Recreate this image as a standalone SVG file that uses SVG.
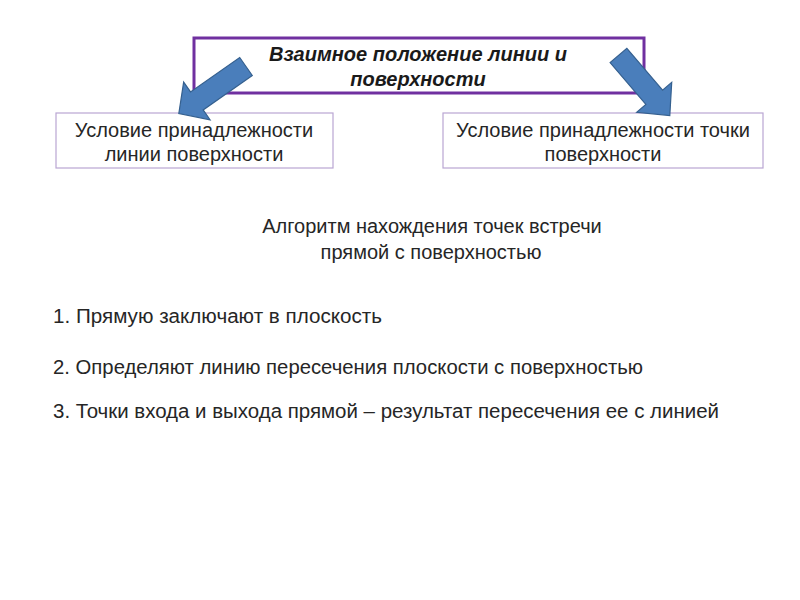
<svg xmlns="http://www.w3.org/2000/svg" width="800" height="600" viewBox="0 0 800 600">
<style>
.t{font-family:"Liberation Sans",Arial,sans-serif;font-size:20px;fill:#262626;text-anchor:middle}
.h{font-family:"Liberation Sans",Arial,sans-serif;font-size:20px;font-weight:bold;font-style:italic;fill:#1a1a1a;text-anchor:middle}
.l{font-family:"Liberation Sans",Arial,sans-serif;font-size:20px;fill:#262626}
.box{fill:#fff;stroke:#B9A6D3;stroke-width:1.2}
.arr{fill:#4A7EBB;stroke:#35608F;stroke-width:1.2}
</style>
<rect width="800" height="600" fill="#fff"/>
<g id="top">
<rect x="194" y="38" width="450" height="55" fill="#fff" stroke="#7030A0" stroke-width="3"/>
<text class="h" x="418" y="61">Взаимное положение линии и</text>
<text class="h" x="418" y="86">поверхности</text>
</g>
<g id="left">
<rect class="box" x="56" y="113" width="277" height="55"/>
<text class="t" x="194" y="137">Условие принадлежности</text>
<text class="t" x="194" y="161">линии поверхности</text>
</g>
<g id="right">
<rect class="box" x="443" y="113" width="320" height="55"/>
<text class="t" x="603" y="137">Условие принадлежности точки</text>
<text class="t" x="603" y="161">поверхности</text>
</g>
<g id="connectors">
<path class="arr" d="M0,-11 L60,-11 L60,-23 L82,0 L60,23 L60,11 L0,11 Z" transform="translate(246,66.5) rotate(145)"/>
<path class="arr" d="M0,-11 L55,-11 L55,-23 L79,0 L55,23 L55,11 L0,11 Z" transform="translate(618.5,55.5) rotate(49.5)"/>
</g>
<g id="algo">
<text class="t" x="432" y="233">Алгоритм нахождения точек встречи</text>
<text class="t" x="431" y="259">прямой с поверхностью</text>
</g>
<g id="steps">
<text class="l" x="53" y="323" textLength="329" lengthAdjust="spacingAndGlyphs">1. Прямую заключают в плоскость</text>
<text class="l" x="53" y="374" textLength="590" lengthAdjust="spacingAndGlyphs">2. Определяют линию пересечения плоскости с поверхностью</text>
<text class="l" x="53" y="418" textLength="666" lengthAdjust="spacingAndGlyphs">3. Точки входа и выхода прямой – результат  пересечения ее с линией</text>
</g>
</svg>
